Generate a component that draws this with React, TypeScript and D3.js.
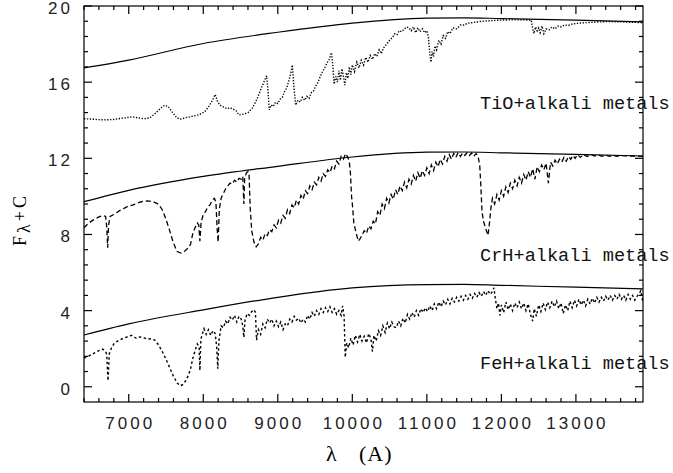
import React from "react";
import * as d3 from "d3";

const W = 673;
const H = 473;

// Continua (solid smooth curves) [wavelength, flux]
const contTiO: [number, number][] = [
  [6400, 16.75], [7000, 17.16], [8000, 18.03], [9000, 18.62], [10000, 19.1],
  [11000, 19.36], [11500, 19.38], [12000, 19.34], [13000, 19.26], [13900, 19.17],
];
const contCrH: [number, number][] = [
  [6400, 9.72], [7000, 10.32], [8000, 11.05], [9000, 11.58], [10000, 12.07],
  [11000, 12.32], [11500, 12.33], [12000, 12.29], [13000, 12.21], [13900, 12.12],
];
const contFeH: [number, number][] = [
  [6400, 2.72], [7000, 3.3], [8000, 4.04], [9000, 4.7], [10000, 5.19],
  [11000, 5.37], [11500, 5.38], [12000, 5.33], [13000, 5.23], [13900, 5.14],
];

// TiO + alkali metals spectrum (dotted)
const specTiO: [number, number][] = [
  [6400, 14.08], [6500, 14.06], [6600, 14.03], [6700, 14.02], [6800, 14.04], [6900, 14.1],
  [7000, 14.15], [7050, 14.18], [7100, 14.14], [7200, 14.08], [7280, 14.12], [7350, 14.33],
  [7420, 14.6], [7480, 14.78], [7530, 14.72], [7580, 14.45], [7640, 14.15], [7690, 14.05],
  [7760, 14.13], [7850, 14.2], [7950, 14.3], [8020, 14.45], [8080, 14.75], [8130, 15.1],
  [8160, 15.35], [8190, 15.0], [8220, 14.8], [8270, 14.7], [8320, 14.6], [8360, 14.66],
  [8400, 14.58], [8440, 14.5], [8480, 14.28], [8540, 14.32], [8600, 14.4], [8660, 14.65],
  [8720, 15.1], [8780, 15.7], [8830, 16.15], [8850, 16.33], [8870, 15.5], [8885, 14.55],
  [8910, 14.8], [8940, 14.72], [8970, 14.95], [9000, 14.88], [9030, 15.1], [9060, 15.2],
  [9090, 15.5], [9120, 15.7], [9150, 16.1], [9180, 16.55], [9195, 16.9], [9215, 15.8],
  [9240, 14.8], [9270, 15.05], [9300, 14.95], [9330, 15.2], [9360, 15.05], [9390, 15.25],
  [9420, 15.15], [9450, 15.45], [9480, 15.55], [9510, 15.8], [9540, 16.0], [9570, 16.3],
  [9600, 16.55], [9630, 16.75], [9660, 17.0], [9690, 17.2], [9720, 17.55], [9740, 16.8],
  [9755, 15.9], [9780, 16.3], [9800, 16.0], [9820, 16.6], [9840, 16.1], [9860, 16.7],
  [9880, 16.3], [9900, 15.85], [9920, 16.5], [9940, 16.2], [9960, 16.8], [9980, 16.4],
  [10000, 16.9], [10030, 16.55], [10060, 17.05], [10090, 16.75], [10120, 17.15], [10150, 16.9],
  [10180, 17.3], [10210, 17.05], [10240, 17.4], [10270, 17.2], [10300, 17.5], [10330, 17.35],
  [10360, 17.7], [10390, 17.5], [10420, 17.8], [10450, 17.95], [10480, 18.1], [10510, 18.25],
  [10540, 18.35], [10570, 18.55], [10600, 18.5], [10630, 18.7], [10660, 18.65], [10700, 18.8],
  [10730, 18.9], [10760, 18.85], [10790, 18.7], [10820, 18.9], [10850, 18.6], [10880, 18.85],
  [10910, 18.65], [10940, 18.8], [10970, 18.6], [11000, 18.7], [11020, 18.4], [11040, 17.5],
  [11055, 17.05], [11070, 17.6], [11090, 17.35], [11110, 17.9], [11130, 17.7], [11160, 18.2],
  [11190, 18.0], [11220, 18.45], [11250, 18.3], [11280, 18.65], [11310, 18.55], [11350, 18.85],
  [11400, 18.8], [11450, 19.0], [11500, 19.0], [11550, 19.1], [11600, 19.12], [11700, 19.18],
  [11800, 19.22], [11900, 19.24], [12000, 19.26], [12100, 19.27], [12200, 19.27], [12300, 19.27],
  [12400, 19.26], [12420, 18.8], [12435, 18.55], [12460, 18.9], [12480, 18.7], [12500, 18.85],
  [12520, 18.6], [12545, 18.95], [12570, 18.55], [12600, 18.8], [12640, 18.75], [12680, 18.9],
  [12720, 18.8], [12760, 18.95], [12800, 18.9], [12850, 19.0], [12900, 18.98], [12950, 19.05],
  [13000, 19.08], [13100, 19.12], [13200, 19.14], [13300, 19.16], [13400, 19.18], [13500, 19.18],
  [13600, 19.17], [13700, 19.15], [13800, 19.14], [13900, 19.12],
];

// CrH + alkali metals spectrum (dashed)
const specCrH: [number, number][] = [
  [6400, 8.35], [6450, 8.55], [6500, 8.7], [6550, 8.82], [6600, 8.92], [6650, 9.0],
  [6690, 8.95], [6705, 8.4], [6718, 7.3], [6730, 8.5], [6750, 8.95], [6800, 9.05],
  [6850, 9.18], [6900, 9.3], [6950, 9.4], [7000, 9.5], [7060, 9.55], [7100, 9.62],
  [7150, 9.7], [7200, 9.74], [7250, 9.76], [7300, 9.74], [7350, 9.68], [7400, 9.58],
  [7450, 9.3], [7500, 8.8], [7550, 8.2], [7600, 7.55], [7650, 7.1], [7700, 7.02],
  [7750, 7.12], [7800, 7.3], [7830, 7.5], [7860, 8.05], [7890, 8.35], [7920, 8.6],
  [7940, 8.5], [7955, 7.65], [7970, 8.6], [8000, 9.05], [8030, 9.2], [8060, 9.45],
  [8090, 9.55], [8120, 9.8], [8150, 9.9], [8170, 9.7], [8185, 8.4], [8200, 7.6],
  [8215, 9.3], [8240, 9.9], [8270, 10.15], [8300, 10.4], [8330, 10.55], [8360, 10.7],
  [8390, 10.65], [8420, 10.85], [8450, 10.75], [8480, 10.95], [8510, 10.9], [8530, 11.05],
  [8545, 9.6], [8555, 10.95], [8580, 11.25], [8600, 11.3], [8615, 11.1], [8630, 9.4],
  [8650, 8.2], [8680, 7.6], [8710, 7.35], [8740, 7.5], [8770, 7.85], [8800, 7.7],
  [8830, 8.05], [8860, 7.95], [8890, 8.25], [8920, 8.15], [8950, 8.5], [8980, 8.35],
  [9010, 8.75], [9040, 8.6], [9070, 9.0], [9100, 8.85], [9130, 9.3], [9160, 9.1],
  [9190, 9.55], [9220, 9.4], [9250, 9.8], [9280, 9.6], [9310, 10.05], [9340, 9.85],
  [9370, 10.3], [9400, 10.15], [9430, 10.55], [9460, 10.35], [9490, 10.75], [9520, 10.6],
  [9550, 11.0], [9580, 10.8], [9610, 11.2], [9640, 11.05], [9670, 11.4], [9700, 11.25],
  [9730, 11.6], [9760, 11.45], [9790, 11.85], [9820, 11.7], [9850, 12.1], [9880, 11.95],
  [9910, 12.25], [9940, 12.05], [9960, 11.8], [9975, 11.2], [9990, 10.0], [10005, 9.4],
  [10020, 8.6], [10050, 8.1], [10080, 7.65], [10100, 7.75], [10130, 7.95], [10160, 8.2],
  [10190, 8.05], [10220, 8.45], [10250, 8.3], [10280, 8.7], [10310, 8.55], [10340, 9.2],
  [10370, 9.0], [10400, 9.6], [10430, 9.35], [10460, 9.9], [10490, 9.65], [10520, 10.1],
  [10550, 9.85], [10580, 10.35], [10610, 10.1], [10640, 10.55], [10670, 10.3], [10700, 10.75],
  [10730, 10.45], [10760, 10.9], [10790, 10.65], [10820, 11.1], [10850, 10.8], [10880, 11.25],
  [10910, 10.95], [10940, 11.35], [10970, 11.1], [11000, 11.5], [11030, 11.2], [11060, 11.65],
  [11090, 11.35], [11120, 11.8], [11150, 11.55], [11180, 11.95], [11210, 11.7], [11240, 12.1],
  [11270, 11.85], [11300, 12.2], [11330, 11.95], [11360, 12.25], [11390, 12.05], [11420, 12.3],
  [11450, 12.1], [11480, 12.28], [11510, 12.15], [11540, 12.3], [11570, 12.15], [11600, 12.28],
  [11630, 12.1], [11660, 12.25], [11690, 12.05], [11710, 11.6], [11725, 10.5], [11740, 9.2],
  [11760, 8.7], [11790, 8.3], [11820, 7.95], [11840, 8.6], [11860, 9.4], [11880, 9.9],
  [11910, 9.6], [11940, 10.1], [11970, 9.8], [12000, 10.3], [12030, 10.0], [12060, 10.5],
  [12090, 10.2], [12120, 10.7], [12150, 10.4], [12180, 10.85], [12210, 10.55], [12240, 11.0],
  [12270, 10.7], [12300, 11.15], [12330, 10.85], [12360, 11.3], [12390, 11.0], [12420, 11.45],
  [12450, 10.9], [12480, 11.55], [12510, 11.3], [12540, 11.65], [12570, 11.4], [12600, 11.75],
  [12630, 10.7], [12660, 11.8], [12690, 11.6], [12720, 11.9], [12750, 11.7], [12780, 11.95],
  [12810, 11.8], [12840, 12.05], [12870, 11.85], [12900, 12.1], [12930, 11.95], [12960, 12.15],
  [12990, 12.0], [13020, 12.2], [13060, 12.05], [13100, 12.2], [13150, 12.1], [13200, 12.2],
  [13250, 12.12], [13300, 12.18], [13350, 12.1], [13400, 12.16], [13450, 12.1], [13500, 12.15],
  [13550, 12.1], [13600, 12.14], [13700, 12.12], [13800, 12.12], [13900, 12.1],
];

// FeH + alkali metals spectrum (short dashes)
const specFeH: [number, number][] = [
  [6400, 1.5], [6450, 1.6], [6500, 1.68], [6550, 1.8], [6600, 1.9], [6650, 1.98],
  [6690, 1.85], [6705, 1.7], [6722, 0.32], [6740, 1.75], [6770, 2.05], [6800, 2.25],
  [6850, 2.4], [6900, 2.5], [6950, 2.58], [7000, 2.65], [7040, 2.7], [7080, 2.6],
  [7100, 2.55], [7150, 2.62], [7200, 2.58], [7250, 2.5], [7300, 2.52], [7350, 2.45],
  [7400, 2.2], [7450, 1.85], [7500, 1.45], [7550, 1.0], [7600, 0.55], [7650, 0.2],
  [7690, 0.05], [7730, 0.12], [7770, 0.35], [7800, 0.6], [7830, 0.95], [7860, 1.5],
  [7890, 1.9], [7920, 2.25], [7945, 2.1], [7955, 0.85], [7968, 2.5], [7990, 2.8],
  [8010, 3.05], [8040, 2.75], [8070, 3.0], [8100, 2.7], [8130, 2.95], [8160, 2.8],
  [8180, 2.1], [8195, 0.95], [8210, 2.4], [8240, 3.2], [8270, 3.1], [8300, 3.45],
  [8330, 3.3], [8360, 3.65], [8390, 3.5], [8420, 3.75], [8450, 3.4], [8480, 3.7],
  [8510, 3.55], [8530, 3.2], [8545, 2.6], [8560, 3.5], [8590, 3.85], [8620, 3.75],
  [8650, 3.95], [8680, 4.05], [8700, 3.9], [8715, 2.45], [8740, 3.0], [8770, 2.75],
  [8800, 3.3], [8830, 3.1], [8860, 3.55], [8890, 3.35], [8920, 3.55], [8950, 3.2],
  [8980, 3.45], [9010, 3.15], [9040, 3.4], [9070, 3.0], [9100, 3.3], [9130, 3.2],
  [9160, 3.55], [9190, 3.4], [9220, 3.7], [9250, 3.5], [9280, 3.6], [9310, 3.35],
  [9340, 3.55], [9370, 3.4], [9400, 3.75], [9430, 3.55], [9460, 3.9], [9490, 3.7],
  [9520, 4.0], [9550, 3.8], [9580, 4.1], [9610, 3.9], [9640, 4.15], [9670, 3.95],
  [9700, 4.2], [9730, 3.9], [9760, 4.1], [9790, 3.8], [9820, 4.0], [9850, 3.75],
  [9870, 4.25], [9890, 3.7], [9905, 1.55], [9925, 2.3], [9950, 2.05], [9980, 2.55],
  [10010, 2.2], [10040, 2.7], [10070, 2.35], [10100, 2.75], [10130, 2.4], [10160, 2.65],
  [10190, 2.3], [10220, 2.8], [10250, 2.5], [10270, 1.85], [10290, 2.7], [10320, 2.4],
  [10350, 2.95], [10380, 2.7], [10410, 3.2], [10440, 2.85], [10470, 3.35], [10500, 3.05],
  [10530, 3.4], [10560, 3.15], [10590, 3.1], [10620, 3.45], [10650, 3.2], [10680, 3.6],
  [10710, 3.35], [10740, 3.8], [10770, 3.55], [10800, 3.9], [10830, 3.65], [10860, 4.0],
  [10890, 3.75], [10920, 4.1], [10950, 3.9], [10980, 4.15], [11010, 3.95], [11040, 4.25],
  [11070, 4.0], [11100, 4.35], [11130, 4.1], [11160, 4.45], [11190, 4.2], [11220, 4.5],
  [11250, 4.3], [11280, 4.6], [11310, 4.35], [11340, 4.65], [11370, 4.45], [11400, 4.7],
  [11430, 4.5], [11460, 4.75], [11490, 4.55], [11520, 4.8], [11550, 4.6], [11580, 4.85],
  [11610, 4.65], [11640, 4.9], [11670, 4.7], [11700, 4.95], [11730, 4.75], [11760, 5.0],
  [11790, 4.8], [11820, 5.05], [11850, 4.85], [11880, 5.0], [11900, 5.2], [11920, 4.6],
  [11940, 4.1], [11960, 4.4], [11980, 3.75], [12000, 4.3], [12030, 3.9], [12060, 4.45],
  [12090, 4.05], [12120, 4.35], [12150, 4.0], [12180, 4.4], [12210, 4.15], [12240, 4.45],
  [12270, 4.1], [12300, 4.4], [12330, 4.0], [12360, 4.35], [12390, 3.8], [12420, 3.45],
  [12440, 4.1], [12470, 3.7], [12500, 4.3], [12530, 3.95], [12560, 4.4], [12590, 4.05],
  [12620, 4.45], [12650, 4.15], [12680, 4.5], [12710, 4.2], [12740, 4.5], [12770, 4.1],
  [12800, 4.4], [12830, 3.85], [12860, 4.3], [12890, 4.0], [12920, 4.5], [12950, 4.15],
  [12980, 4.55], [13010, 4.25], [13040, 4.6], [13070, 4.3], [13100, 4.55], [13130, 4.25],
  [13160, 4.6], [13190, 4.35], [13220, 4.65], [13250, 4.4], [13280, 4.7], [13310, 4.45],
  [13340, 4.7], [13370, 4.5], [13400, 4.75], [13430, 4.55], [13460, 4.8], [13490, 4.55],
  [13520, 4.8], [13550, 4.6], [13580, 4.85], [13610, 4.6], [13640, 4.8], [13670, 4.55],
  [13700, 4.85], [13730, 4.6], [13760, 4.8], [13790, 4.55], [13820, 4.75], [13850, 4.9],
  [13870, 5.05], [13900, 4.4],
];

const xTickValues = [7000, 8000, 9000, 10000, 11000, 12000, 13000];
const yTickValues = [0, 4, 8, 12, 16, 20];
const labels = ["TiO+alkali metals", "CrH+alkali metals", "FeH+alkali metals"];
const labelY = [14.9, 6.9, 1.25];

export default function App() {
  const left = 84, right = 643, top = 6, bottom = 402;
  const x = d3.scaleLinear().domain([6400, 13900]).range([left, right]);
  const y = d3.scaleLinear().domain([-0.8, 20]).range([bottom, top]);

  const smooth = d3.line<[number, number]>().x(d => x(d[0])).y(d => y(d[1])).curve(d3.curveMonotoneX);
  const raw = d3.line<[number, number]>().x(d => x(d[0])).y(d => y(d[1]));

  const xMinor = d3.range(6400, 13901, 200).filter(v => v % 1000 !== 0);
  const yMinor = d3.range(0.8, 20, 0.8).map(v => Math.round(v * 10) / 10).filter(v => Math.abs(v % 4) > 1e-6);
  const maj = 8, mnr = 4;
  const tickFont = "'Liberation Sans', Arial, sans-serif";
  const serif = "'Liberation Serif', 'Times New Roman', serif";

  return (
    <svg width={W} height={H} style={{ position: "absolute", left: 0, top: 0, background: "#fff" }}>
      <rect x={0} y={0} width={W} height={H} fill="#fff" />
      <g fill="none" stroke="#000">
        <path d={smooth(contTiO) || ""} strokeWidth={1.2} />
        <path d={smooth(contCrH) || ""} strokeWidth={1.2} />
        <path d={smooth(contFeH) || ""} strokeWidth={1.2} />
        <path d={raw(specTiO) || ""} strokeWidth={1.4} strokeDasharray="1.3,1.6" />
        <path d={raw(specCrH) || ""} strokeWidth={1.3} strokeDasharray="5,3" />
        <path d={raw(specFeH) || ""} strokeWidth={1.4} strokeDasharray="2.5,2.5" />
      </g>
      {/* frame and ticks */}
      <g stroke="#000" strokeWidth={1.2} fill="none">
        <rect x={left} y={top} width={right - left} height={bottom - top} />
        {xTickValues.map(v => (
          <g key={"xm" + v}>
            <line x1={x(v)} x2={x(v)} y1={bottom} y2={bottom - maj} />
            <line x1={x(v)} x2={x(v)} y1={top} y2={top + maj} />
          </g>
        ))}
        {xMinor.map(v => (
          <g key={"xn" + v}>
            <line x1={x(v)} x2={x(v)} y1={bottom} y2={bottom - mnr} />
            <line x1={x(v)} x2={x(v)} y1={top} y2={top + mnr} />
          </g>
        ))}
        {yTickValues.map(v => (
          <g key={"ym" + v}>
            <line x1={left} x2={left + maj} y1={y(v)} y2={y(v)} />
            <line x1={right} x2={right - maj} y1={y(v)} y2={y(v)} />
          </g>
        ))}
        {yMinor.map(v => (
          <g key={"yn" + v}>
            <line x1={left} x2={left + mnr} y1={y(v)} y2={y(v)} />
            <line x1={right} x2={right - mnr} y1={y(v)} y2={y(v)} />
          </g>
        ))}
      </g>
      {/* tick labels */}
      <g fontFamily={tickFont} fontSize={17} fill="#222" style={{ letterSpacing: "3px" }}>
        {xTickValues.map(v => (
          <text key={"xl" + v} x={x(v) + 1.5} y={429} textAnchor="middle">{v}</text>
        ))}
        {yTickValues.map(v => (
          <text key={"yl" + v} x={73} y={y(v) + 8} textAnchor="end">{v}</text>
        ))}
      </g>
      {/* axis titles */}
      <g fontFamily={serif} fontSize={22} fill="#000">
        <text x={326} y={461}>λ</text>
        <text x={359} y={461} style={{ letterSpacing: "1px" }}>(A)</text>
      </g>
      <text transform="translate(26,246) rotate(-90)" fontFamily={serif} fontSize={18} style={{ letterSpacing: "3px" }}>
        F<tspan dy={4}>λ</tspan><tspan dy={-4}>+C</tspan>
      </text>
      {/* series labels */}
      <g fontFamily="'Liberation Mono', 'Courier New', monospace" fontSize={18.6} fill="#111">
        {labels.map((t, i) => (
          <text key={t} x={480} y={y(labelY[i]) + 6}>{t}</text>
        ))}
      </g>
    </svg>
  );
}
